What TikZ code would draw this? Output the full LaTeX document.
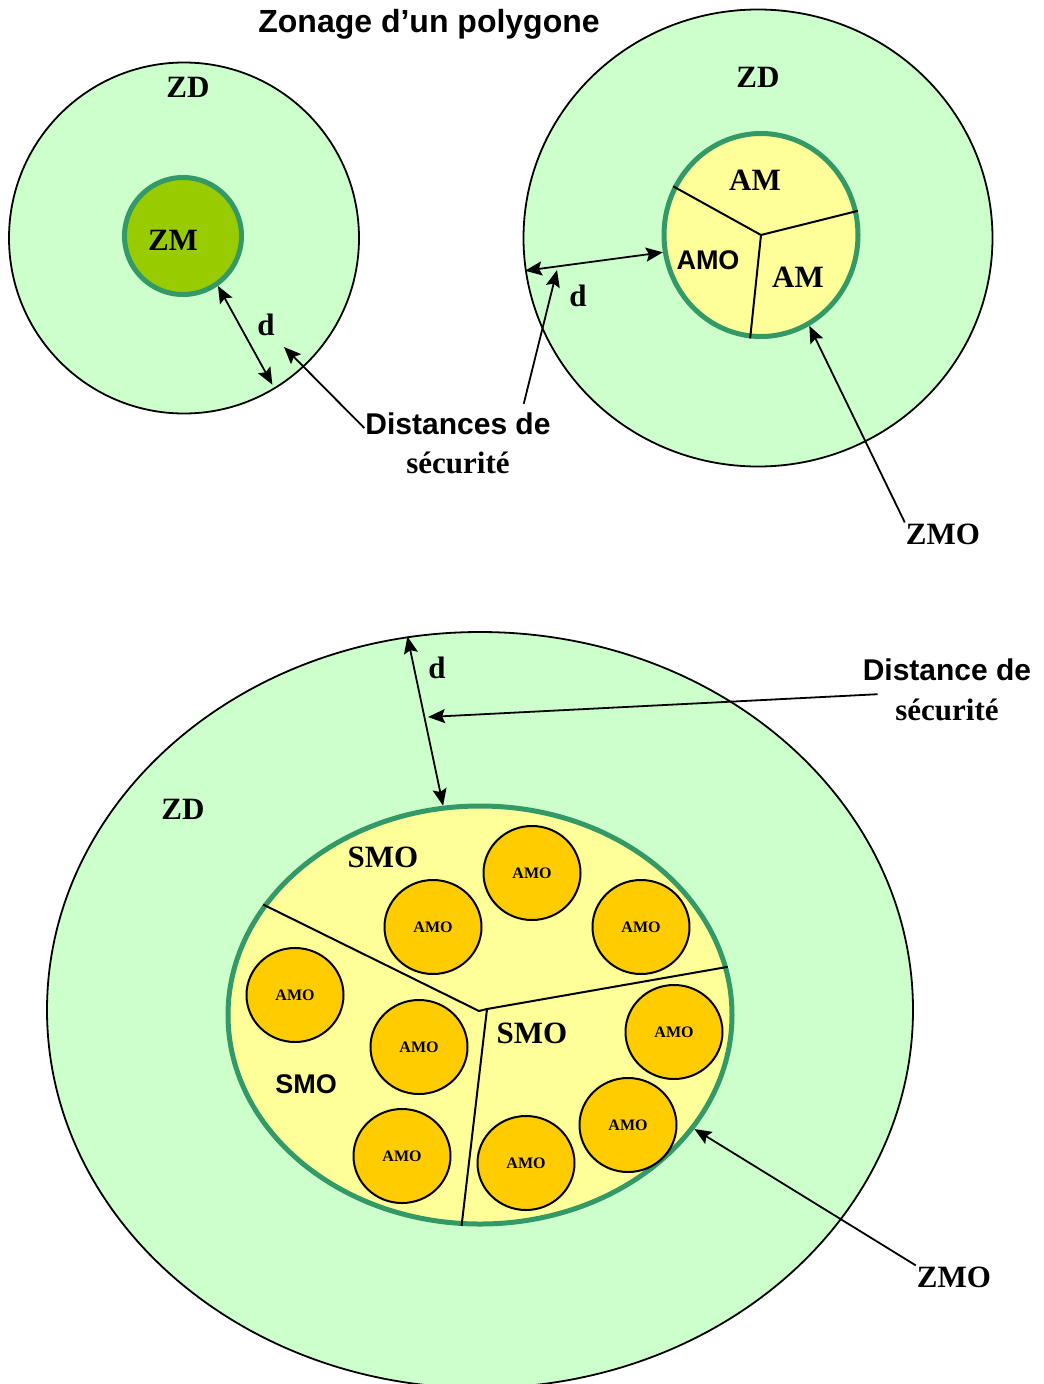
\documentclass[tikz,border=0pt]{standalone}
\usepackage{fontspec}
\setmainfont{Liberation Serif}
\setsansfont{Liberation Sans}
\usepackage{xcolor}
\usepackage{tikz}
\usetikzlibrary{positioning,shapes.geometric,arrows.meta}
\definecolor{mint}{HTML}{CCFFCC}
\definecolor{leaf}{HTML}{99CC00}
\definecolor{rim}{HTML}{339966}
\definecolor{cream}{HTML}{FFFF99}
\definecolor{gold}{HTML}{FFCC00}
\newcommand{\tagfont}{\fontsize{31}{36}\selectfont\bfseries}
\newcommand{\sanstagfont}{\fontsize{27}{32}\selectfont\sffamily\bfseries}

\begin{document}
\begin{tikzpicture}[x=1pt,y=-1pt,
      zone/.style={ellipse,draw=black,line width=1.8pt,fill=mint,inner sep=0pt},
      core/.style={ellipse,draw=rim,line width=5pt,fill=cream,inner sep=0pt},
      site/.style={ellipse,draw=black,line width=2pt,fill=gold,inner sep=0pt,minimum width=97pt,minimum height=94pt,font=\fontsize{16}{18}\selectfont\bfseries},
      tag/.style={font=\tagfont,inner sep=1pt},
      sanstag/.style={font=\sanstagfont,inner sep=1pt},
      heading/.style={font=\fontsize{30}{35}\selectfont\sffamily\bfseries,inner sep=1pt},
      divider/.style={line width=2pt},
      arrow/.style={line width=1.8pt,-{Stealth[length=17pt,width=14pt,inset=3pt]}},
      both/.style={line width=1.8pt,{Stealth[length=17pt,width=14pt,inset=3pt]}-{Stealth[length=17pt,width=14pt,inset=3pt]}}]
      \useasboundingbox (0,0) rectangle (1044,1384);
      % zones
      \node[zone,minimum width=350pt,minimum height=351pt] (zoneL) at (184,238) {};
      \node[core,fill=leaf,minimum width=117pt,minimum height=117pt] (zm) at (183,236) {};
      \node[zone,minimum width=469pt,minimum height=457pt] (zoneR) at (758,238) {};
      \node[core,minimum width=194pt,minimum height=203pt] (coreR) at (761,235) {};
      \node[zone,minimum width=866pt,minimum height=756pt] (zoneB) at (480,1010) {};
      \node[core,minimum width=504pt,minimum height=418pt] (coreB) at (480,1015) {};
      \draw[divider] (coreR.center)--(coreR.151); \draw[divider] (coreR.center)--(coreR.14); \draw[divider] (coreR.center)--(coreR.-96);
      \coordinate (hubL) at (479,1011); \coordinate (hubR) at (487,1009);
      \draw[divider] (coreB.153)--(hubL)--(hubR)--(coreB.11); \draw[divider] (hubR)--(coreB.-95);
      \node[site] (amoA) at (532,873) {AMO};
      \node[site] (amoB) at (433,927) {AMO};
      \node[site] (amoC) at (641,927) {AMO};
      \node[site] (amoD) at (295,995) {AMO};
      \node[site] (amoE) at (419,1047) {AMO};
      \node[site] (amoF) at (674,1032) {AMO};
      \node[site] (amoG) at (402,1156) {AMO};
      \node[site] (amoH) at (628,1125) {AMO};
      \node[site] (amoI) at (526,1163) {AMO};
      % labels
      \node[heading,font=\fontsize{32}{37}\selectfont\sffamily\bfseries] (title) at (429,24) {Zonage d’un polygone};
      \node[tag] (zdL) at (188,87) {ZD};
      \node[tag] (zmL) at (173,240) {ZM};
      \node[tag] (dL) at (266,325) {d};
      \node[heading] (distL1) at (458,424) {Distances de};
      \node[tag] (distL2) at (458,463) {sécurité};
      \node[tag] (zdR) at (758,77) {ZD};
      \node[tag] (amR1) at (755,180) {AM};
      \node[sanstag] (amoR) at (708,260) {AMO};
      \node[tag] (amR2) at (798,277) {AM};
      \node[tag] (dR) at (578,296) {d};
      \node[tag] (zmoTagR) at (943,534) {ZMO};
      \node[tag] (zdB) at (183,809) {ZD};
      \node[tag] (dB) at (437,668) {d};
      \node[heading] (distB1) at (947,670) {Distance de};
      \node[tag] (distB2) at (947,710) {sécurité};
      \node[tag] (smoA) at (383,857) {SMO};
      \node[tag] (smoB) at (532,1033) {SMO};
      \node[sanstag] (smoC) at (306,1084) {SMO};
      \node[tag] (zmoTagB) at (954,1277) {ZMO};
      % arrows
      \coordinate (tipL) at (284,347); \coordinate (tipR) at (557,270); \coordinate (tipB) at (428,717);
      \draw[both,shorten >=5pt] (zm.-55)--(zoneL.-59); \draw[arrow] ([yshift=-4pt]distL1.west)--(tipL);
      \draw[both] (zoneR.188)--(coreR.190); \draw[arrow] ([xshift=-28pt,yshift=8pt]distL1.north east)--(tipR);
      \draw[arrow] (zmoTagR.north west)--(coreR.-62);
      \draw[both] (zoneB.101)--(coreB.100); \draw[arrow] ([xshift=16pt,yshift=-12pt]distB1.south west)--(tipB);
      \draw[arrow] (zmoTagB.north west)--(coreB.-28);
    \end{tikzpicture}
\end{document}
